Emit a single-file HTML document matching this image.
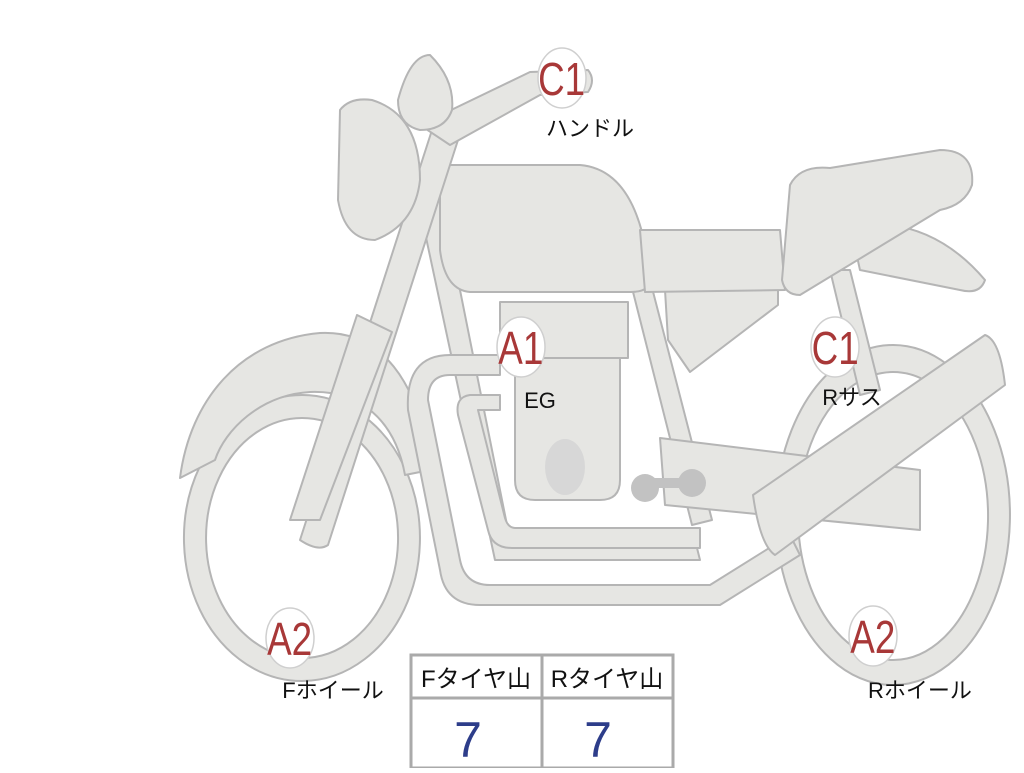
<!DOCTYPE html>
<html><head><meta charset="utf-8"><style>
body{margin:0;background:#fff;width:1024px;height:768px;overflow:hidden;font-family:"Liberation Sans","Noto Sans CJK JP",sans-serif}
</style></head><body>
<svg width="1024" height="768" viewBox="0 0 1024 768" xmlns="http://www.w3.org/2000/svg" font-family="Liberation Sans, Noto Sans CJK JP, sans-serif">
<g fill="#e6e6e3" stroke="#b5b5b5" stroke-width="2" stroke-linejoin="round">
<path fill-rule="evenodd" d="M893 345 A117 170 0 1 1 892.9 345 Z M893 372 A95 144 0 1 0 893.1 372 Z"/>
<path fill-rule="evenodd" d="M302 395 A118 143 0 1 1 301.9 395 Z M302 418 A96 120 0 1 0 302.1 418 Z"/>
<path d="M180 478 C190 400 240 340 320 333 C380 330 420 380 430 470 L405 475 C395 420 360 390 310 392 C260 395 225 430 215 460 Z"/>
<path d="M418 200 L440 190 L510 540 L695 540 L700 560 L495 560 Z"/>
<path d="M630 280 L650 280 L712 520 L692 525 Z"/>
<path d="M830 270 L850 270 L880 390 L860 395 Z"/>
<path d="M500 375 L450 375 Q428 375 428 400 L460 560 Q465 585 490 585 L710 585 L790 535 L800 555 L720 605 L480 605 Q445 605 440 570 L408 410 Q405 355 450 355 L500 355 Z"/>
<path d="M500 395 L470 395 Q455 397 458 415 L488 530 Q492 548 512 548 L700 548 L700 528 L515 528 Q508 528 505 518 L478 410 L500 410 Z"/>
<path d="M660 438 L920 470 L920 530 L665 505 Z"/>
<path d="M515 355 L620 355 L620 480 Q620 500 600 500 L535 500 Q515 500 515 480 Z"/>
<rect x="500" y="302" width="128" height="56"/>
<path d="M665 290 L778 290 L778 305 L690 372 L668 340 Z"/>
<path d="M440 165 L580 165 Q640 170 650 280 Q650 292 630 292 L470 292 Q445 290 440 250 Z"/>
<path d="M640 230 L780 230 L785 290 L645 292 Z"/>
<path d="M850 225 Q930 215 985 280 Q980 295 960 290 L860 270 Z"/>
<path d="M790 185 Q800 165 830 168 L940 150 Q975 150 972 185 Q965 205 940 210 L800 295 Q785 295 782 280 Z"/>
<path d="M432 130 L458 140 L328 545 Q318 552 300 540 Z"/>
<path d="M357 315 L392 332 L320 520 L290 520 Z"/>
<path d="M340 110 Q350 97 372 100 Q420 115 420 180 Q415 225 375 240 Q345 240 338 200 Z"/>
<path d="M420 125 L530 72 L588 70 Q596 80 588 92 L540 95 L450 145 Z"/>
<path d="M398 100 Q410 55 430 55 Q455 80 452 110 Q445 130 420 130 Q398 125 398 100 Z"/>
<path d="M753 495 L985 335 Q1000 340 1005 385 L775 555 Q760 545 753 495 Z"/>
</g>
<g fill="#c2c2c2"><ellipse cx="565" cy="467" rx="20" ry="28" fill="#d7d7d7"/>
<rect x="645" y="478" width="45" height="10"/><circle cx="645" cy="488" r="14"/><circle cx="692" cy="483" r="14"/></g>
<g fill="#fff" stroke="#cfcfcf" stroke-width="1.5">
<ellipse cx="562" cy="78" rx="24" ry="30"/><ellipse cx="521" cy="347" rx="24" ry="30"/><ellipse cx="835" cy="347" rx="24" ry="30"/>
<ellipse cx="290" cy="638" rx="24" ry="30"/><ellipse cx="873" cy="636" rx="24" ry="30"/></g>
<g fill="#a83838" font-size="46" text-anchor="middle" transform="scale(0.8,1)">
<text x="702" y="95">C1</text><text x="651" y="364">A1</text><text x="1044" y="364">C1</text>
<text x="362" y="655">A2</text><text x="1091" y="653">A2</text></g>
<g fill="#111" font-size="22" text-anchor="middle">
<text x="590" y="136">ハンドル</text><text x="540" y="408">EG</text><text x="852" y="405">Rサス</text>
<text x="333" y="698">Fホイール</text><text x="920" y="698">Rホイール</text></g>
<g stroke="#aaa" stroke-width="3" fill="#fff"><rect x="411" y="655" width="262" height="113"/>
<line x1="411" y1="698" x2="673" y2="698"/><line x1="542" y1="655" x2="542" y2="768"/></g>
<g font-size="24" text-anchor="middle" fill="#111"><text x="476" y="687">Fタイヤ山</text><text x="607" y="687">Rタイヤ山</text></g>
<g font-size="50" text-anchor="middle" fill="#2d3d8a"><text x="468" y="757">7</text><text x="598" y="757">7</text></g>
</svg>
</body></html>
